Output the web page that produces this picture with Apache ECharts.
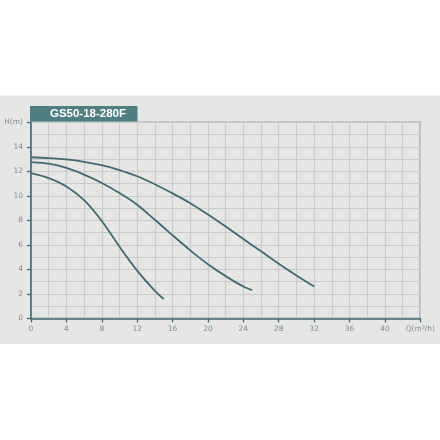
<!DOCTYPE html>
<html>
<head>
<meta charset="utf-8">
<script src="https://cdn.jsdelivr.net/npm/echarts@6/dist/echarts.min.js"></script>
<style>
html,body{margin:0;padding:0;background:#ffffff;}
#chart{width:440px;height:440px;}
</style>
</head>
<body>
<div id="chart"></div>
<script>
// ---- data ----
var chartTitle = 'GS50-18-280F';
var xTickLabels = ['0','4','8','12','16','20','24','28','32','36','40','Q(m³/h)'];
var yTickLabels = ['0','2','4','6','8','10','12','14','H(m)'];

var q1 = [0, 2, 4, 6, 8, 10, 12, 14, 16, 18, 20, 22, 24, 26, 28, 30, 32];
var h1 = [13.15, 13.08, 12.97, 12.78, 12.5, 12.1, 11.6, 10.95, 10.2, 9.4, 8.48, 7.5, 6.48, 5.47, 4.45, 3.5, 2.6];

var q2 = [0, 2, 4, 6, 8, 10, 12, 14, 16, 18, 20, 22, 24, 25];
var h2 = [12.75, 12.62, 12.28, 11.73, 11.05, 10.23, 9.28, 8.05, 6.78, 5.55, 4.42, 3.45, 2.6, 2.3];

var q3 = [0, 2, 4, 6, 8, 10, 12, 14, 15];
var h3 = [11.85, 11.45, 10.77, 9.65, 7.95, 5.85, 3.9, 2.25, 1.58];

function pairs(q, h){ return q.map(function(v,i){ return [v, h[i]]; }); }

var teal = '#3f6a72';
var gridGray = '#c9cacb';
var labelGray = '#7f8b94';

var chart = echarts.init(document.getElementById('chart'), null, {renderer:'canvas'});

function lineSeries(q, h){
  return {
    type:'line', data: pairs(q,h), smooth:0.25, symbol:'none',
    lineStyle:{color:teal, width:1.8}, z:5
  };
}

chart.setOption({
  animation:false,
  backgroundColor:'#ffffff',
  graphic:[
    {type:'rect', left:0, top:95.5, shape:{width:440, height:248.5}, style:{fill:'#e6e6e5'}, z:-10, silent:true},
    {type:'rect', left:30, top:106, shape:{width:107.5, height:15.5}, style:{fill:'#4f7f83'}, z:10, silent:true},
    {type:'text', x:88, y:114, style:{text:chartTitle, fill:'#ffffff', align:'center', verticalAlign:'middle', font:'bold 11.5px "Liberation Sans", Arial, sans-serif'}, z:11, silent:true}
  ],
  grid:{left:31, right:19.7, top:122.3, bottom:121.6, show:true, borderColor:teal, borderWidth:1.3, backgroundColor:'transparent'},
  xAxis:{
    type:'value', min:0, max:44, interval:4,
    axisLine:{show:true, lineStyle:{color:teal, width:1.5}},
    axisTick:{show:true, length:4, lineStyle:{color:teal, width:1.3}},
    axisLabel:{color:labelGray, fontSize:7.5, margin:7, fontFamily:'DejaVu Sans',
      formatter:function(v){ return xTickLabels[Math.round(v/4)]; }},
    splitLine:{show:true, lineStyle:{color:gridGray, width:1.2}},
    minorTick:{show:false, splitNumber:2},
    minorSplitLine:{show:true, lineStyle:{color:gridGray, width:1.2}}
  },
  yAxis:{
    type:'value', min:0, max:16, interval:2,
    axisLine:{show:true, lineStyle:{color:teal, width:1.5}},
    axisTick:{show:true, length:4, lineStyle:{color:teal, width:1.3}},
    axisLabel:{color:labelGray, fontSize:7.5, margin:8, fontFamily:'DejaVu Sans',
      formatter:function(v){ return yTickLabels[Math.round(v/2)]; }},
    splitLine:{show:true, lineStyle:{color:gridGray, width:1.2}},
    minorTick:{show:false, splitNumber:2},
    minorSplitLine:{show:true, lineStyle:{color:gridGray, width:1.2}}
  },
  series:[ lineSeries(q1,h1), lineSeries(q2,h2), lineSeries(q3,h3) ]
});
</script>
</body>
</html>
